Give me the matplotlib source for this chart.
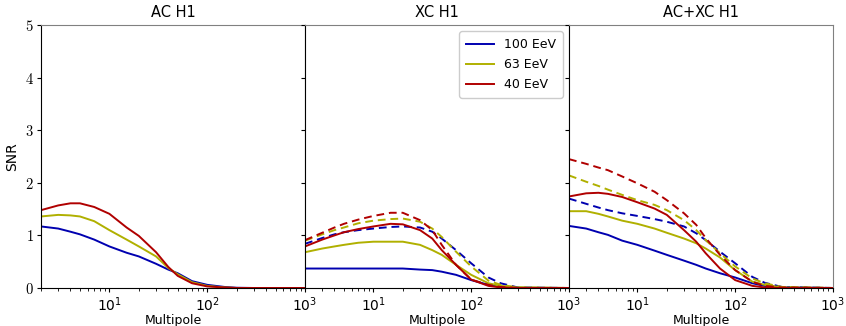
import numpy as np
import matplotlib
matplotlib.use("Agg")
import matplotlib.pyplot as plt
from matplotlib.ticker import FuncFormatter

plt.rcParams['mathtext.fontset'] = 'cm'
plt.rcParams['font.family'] = ['DejaVu Sans']

ell = [2, 3, 4, 5, 7, 10, 15, 20, 30, 40, 50, 70, 100, 150, 200, 300, 1000]
labels = ["100 EeV", "63 EeV", "40 EeV"]
colors = ["#0000b0", "#b0b000", "#b00000"]
titles = ["AC H1", "XC H1", "AC+XC H1"]

# AC H1 (solid only)
ac_100 = [1.17, 1.13, 1.07, 1.02, 0.92, 0.79, 0.67, 0.60, 0.46, 0.35, 0.28, 0.13, 0.06, 0.02, 0.005, 0.0, 0.0]
ac_63 = [1.36, 1.39, 1.38, 1.36, 1.27, 1.10, 0.92, 0.79, 0.60, 0.38, 0.26, 0.11, 0.04, 0.01, 0.0, 0.0, 0.0]
ac_40 = [1.48, 1.57, 1.61, 1.61, 1.54, 1.41, 1.15, 0.99, 0.68, 0.40, 0.23, 0.09, 0.03, 0.01, 0.0, 0.0, 0.0]

# XC H1
xc_100 = [0.37, 0.37, 0.37, 0.37, 0.37, 0.37, 0.37, 0.37, 0.35, 0.34, 0.31, 0.25, 0.15, 0.06, 0.02, 0.005, 0.0]
xc_63 = [0.68, 0.75, 0.79, 0.82, 0.86, 0.88, 0.88, 0.88, 0.82, 0.72, 0.63, 0.44, 0.25, 0.09, 0.04, 0.01, 0.0]
xc_40 = [0.79, 0.92, 1.00, 1.06, 1.12, 1.17, 1.22, 1.21, 1.10, 0.94, 0.72, 0.44, 0.16, 0.04, 0.01, 0.0, 0.0]
xc_100_d = [0.84, 0.95, 1.02, 1.06, 1.10, 1.13, 1.16, 1.17, 1.15, 1.07, 0.94, 0.72, 0.47, 0.20, 0.09, 0.01, 0.0]
xc_63_d = [0.90, 1.02, 1.10, 1.15, 1.23, 1.28, 1.31, 1.32, 1.26, 1.13, 0.97, 0.69, 0.41, 0.14, 0.06, 0.01, 0.0]
xc_40_d = [0.91, 1.05, 1.15, 1.22, 1.30, 1.37, 1.43, 1.43, 1.29, 1.10, 0.82, 0.44, 0.16, 0.06, 0.02, 0.0, 0.0]

# AC+XC H1
tot_100 = [1.18, 1.13, 1.06, 1.01, 0.90, 0.82, 0.71, 0.63, 0.52, 0.44, 0.37, 0.28, 0.20, 0.09, 0.04, 0.01, 0.0]
tot_63 = [1.46, 1.46, 1.41, 1.36, 1.28, 1.22, 1.13, 1.05, 0.94, 0.85, 0.75, 0.58, 0.34, 0.12, 0.06, 0.01, 0.0]
tot_40 = [1.74, 1.80, 1.81, 1.79, 1.73, 1.63, 1.51, 1.39, 1.10, 0.88, 0.66, 0.37, 0.15, 0.04, 0.01, 0.0, 0.0]
tot_100_d = [1.70, 1.60, 1.53, 1.48, 1.42, 1.37, 1.31, 1.26, 1.17, 1.04, 0.91, 0.69, 0.47, 0.21, 0.10, 0.02, 0.0]
tot_63_d = [2.14, 2.02, 1.94, 1.87, 1.77, 1.67, 1.58, 1.48, 1.29, 1.10, 0.91, 0.66, 0.41, 0.18, 0.09, 0.02, 0.0]
tot_40_d = [2.45, 2.36, 2.29, 2.24, 2.12, 1.99, 1.83, 1.67, 1.42, 1.20, 0.95, 0.63, 0.34, 0.12, 0.04, 0.01, 0.0]

solid = [[ac_100, ac_63, ac_40], [xc_100, xc_63, xc_40], [tot_100, tot_63, tot_40]]
dashed = [None, [xc_100_d, xc_63_d, xc_40_d], [tot_100_d, tot_63_d, tot_40_d]]

fig, axes = plt.subplots(1, 3, figsize=(8.46, 3.26), dpi=100, sharey=True)
fig.subplots_adjust(left=0.0485, right=0.9846, top=0.9233, bottom=0.1166, wspace=0)

for i, ax in enumerate(axes):
    for j in range(3):
        ax.plot(ell, solid[i][j], color=colors[j], lw=1.4, label=labels[j])
        if dashed[i] is not None:
            ax.plot(ell, dashed[i][j], color=colors[j], lw=1.4, ls=(0, (4, 2.5)))
    ax.set_xscale('log')
    ax.set_xlim(2, 1000)
    ax.set_ylim(0, 5)
    ax.set_yticks([0, 1, 2, 3, 4, 5])
    ax.yaxis.set_major_formatter(FuncFormatter(lambda v, p: r'$%d$' % v))
    ax.set_title(titles[i], fontsize=10.5, pad=6)
    ax.set_xlabel('Multipole', fontsize=9, labelpad=0)
    ax.tick_params(axis='x', which='major', length=3, width=0.8, labelsize=10, pad=2)
    ax.tick_params(axis='y', which='major', length=3, width=0.8, labelsize=10.5, pad=2)
    ax.tick_params(axis='x', which='minor', length=2, width=0.6)
    for s in ['top', 'right']:
        ax.spines[s].set_color('#808080')
    for s in ['left', 'bottom']:
        ax.spines[s].set_color('black')

axes[0].set_ylabel('SNR', fontsize=10, labelpad=4)
axes[1].legend(loc='upper right', fontsize=9, framealpha=1, edgecolor='#cccccc',
               handlelength=2.2, borderpad=0.55, labelspacing=0.55)

fig.savefig('out.png', dpi=100)
